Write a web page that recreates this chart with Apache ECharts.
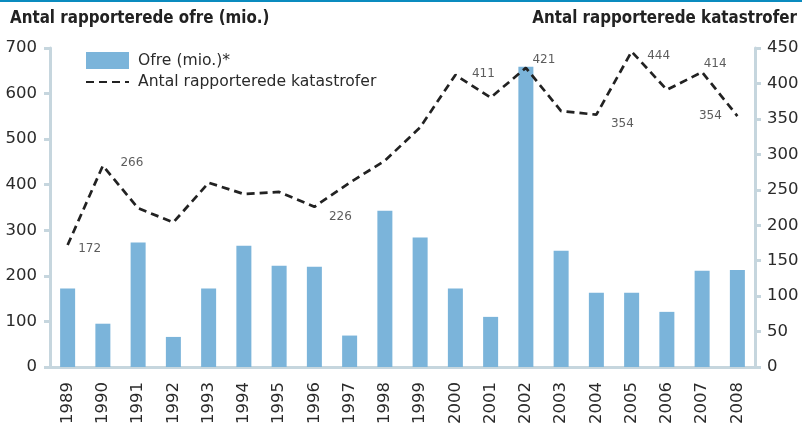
<!DOCTYPE html>
<html>
<head>
<meta charset="utf-8">
<script src="https://cdn.jsdelivr.net/npm/echarts@6/dist/echarts.min.js"></script>
<style>
html,body{margin:0;padding:0;background:#fff;}
#chart{width:802px;height:424px;}
</style>
</head>
<body>
<div id="chart"></div>
<script>
const years = ['1989','1990','1991','1992','1993','1994','1995','1996','1997','1998','1999','2000','2001','2002','2003','2004','2005','2006','2007','2008'];
const victims = [172, 95, 273, 66, 172, 266, 222, 220, 69, 343, 284, 172, 110, 659, 255, 163, 163, 121, 211, 213];
const disasters = [172, 284, 224, 204, 260, 244, 247, 226, 260, 291, 338, 412, 380, 422, 361, 356, 445, 391, 416, 354];
const disasterLabels = ['172', '266', null, null, null, null, null, '226', null, null, null, '411', null, '421', null, '354', '444', null, '414', '354'];
const leftTicks = [0, 700, 100];
const rightTicks = [0, 450, 50];

const labelOffsets = {0:[22,4],1:[29,-3],7:[26,10],11:[28,-1],13:[18,-8],15:[26,9],16:[27,4],18:[13,-8],19:[-27,0]};

const font = '"DejaVu Sans", sans-serif';
const titleFont = '"DejaVu Sans Condensed", "DejaVu Sans", sans-serif';
const axisCol = '#c6d6de';
const textCol = '#2a2a2a';

const labelData = disasters.map((v, i) => {
  const t = disasterLabels[i];
  if (t === null) return { value: v, label: { show: false } };
  return { value: v, label: { show: true, position: 'inside', formatter: t, offset: labelOffsets[i] || [0,0] } };
});

const chart = echarts.init(document.getElementById('chart'), null, { renderer: 'canvas' });
chart.setOption({
  animation: false,
  backgroundColor: '#fff',
  graphic: [
    { type: 'rect', left: 0, top: 0, shape: { width: 802, height: 2 }, style: { fill: '#0a8bbf' } }
  ],
  title: [
    { text: 'Antal rapporterede ofre (mio.)', left: 5, top: 5, textStyle: { fontFamily: titleFont, fontSize: 16.8, fontWeight: 'bold', color: '#222' } },
    { text: 'Antal rapporterede katastrofer', right: 0, top: 5, textStyle: { fontFamily: titleFont, fontSize: 16.8, fontWeight: 'bold', color: '#222' } }
  ],
  legend: {
    orient: 'vertical', left: 80, top: 47, itemGap: 5, itemWidth: 43, itemHeight: 17,
    textStyle: { fontFamily: font, fontSize: 15.6, color: textCol, padding: [0,0,0,4] },
    data: [
      { name: 'Ofre (mio.)*', icon: 'rect' },
      { name: 'Antal rapporterede katastrofer', itemStyle: { opacity: 0 } }
    ]
  },
  grid: { left: 50, right: 47, top: 48, bottom: 57, containLabel: false, outerBoundsMode: 'none' },
  xAxis: {
    type: 'category', data: years, boundaryGap: true,
    axisLine: { lineStyle: { color: axisCol, width: 3 } },
    axisTick: { show: false },
    axisLabel: { rotate: 90, fontFamily: font, fontSize: 16.5, color: textCol, margin: 15, interval: 0 }
  },
  yAxis: [
    {
      type: 'value', min: leftTicks[0], max: leftTicks[1], interval: leftTicks[2], position: 'left',
      axisLine: { show: true, lineStyle: { color: axisCol, width: 3 } },
      axisTick: { show: true, length: 6, lineStyle: { color: axisCol, width: 3 } },
      splitLine: { show: false },
      axisLabel: { fontFamily: font, fontSize: 16.5, color: textCol, margin: 13 }
    },
    {
      type: 'value', min: rightTicks[0], max: rightTicks[1], interval: rightTicks[2], position: 'right',
      axisLine: { show: true, lineStyle: { color: axisCol, width: 3 } },
      axisTick: { show: true, length: 6, lineStyle: { color: axisCol, width: 3 } },
      splitLine: { show: false },
      axisLabel: { fontFamily: font, fontSize: 16.5, color: textCol, margin: 12 }
    }
  ],
  series: [
    {
      name: 'Ofre (mio.)*', type: 'bar', yAxisIndex: 0, data: victims, barWidth: 15,
      itemStyle: { color: '#7bb4da' }
    },
    {
      name: 'Antal rapporterede katastrofer', type: 'line', yAxisIndex: 1, data: disasters,
      symbol: 'none',
      itemStyle: { color: '#222' },
      lineStyle: { color: '#222', width: 2.7, type: [8, 5] },
      z: 5
    },
    {
      name: 'labels', type: 'scatter', yAxisIndex: 1, data: labelData,
      symbol: 'circle', symbolSize: 1,
      itemStyle: { color: 'rgba(0,0,0,0)' },
      label: { fontFamily: font, fontSize: 12, color: '#333' },
      silent: true, z: 6
    }
  ]
});
</script>
</body>
</html>
